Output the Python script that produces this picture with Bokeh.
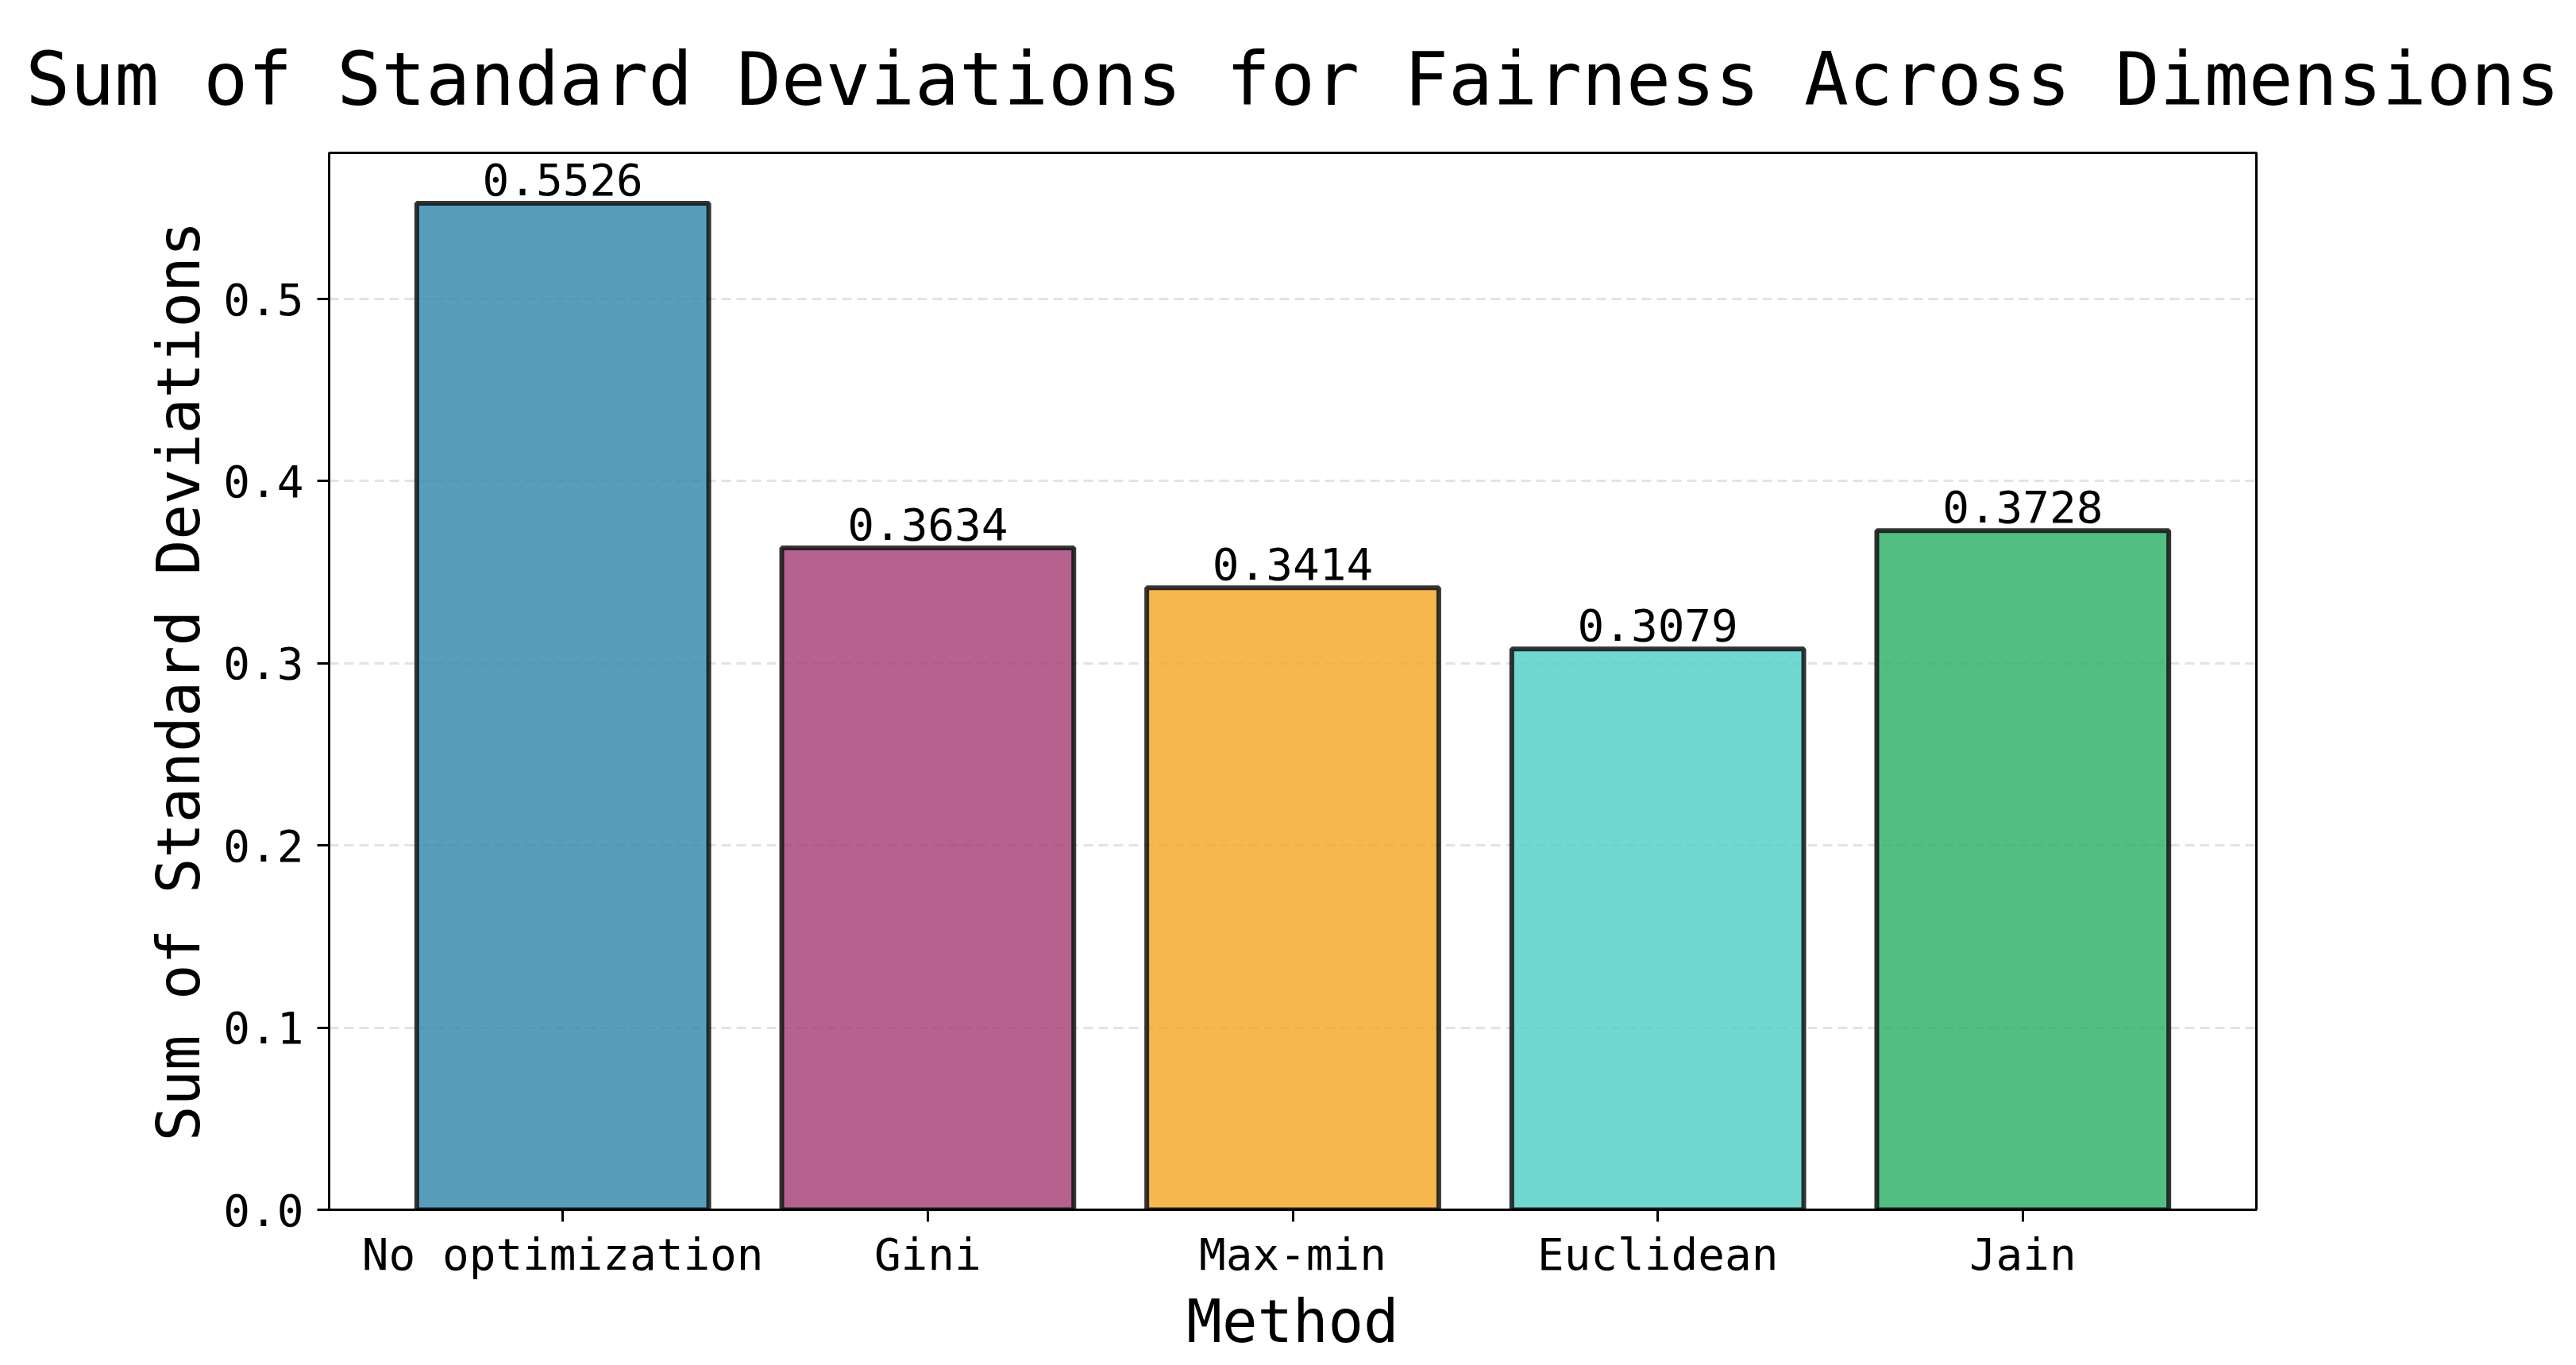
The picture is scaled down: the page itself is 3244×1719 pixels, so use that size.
from bokeh.plotting import figure
from bokeh.models import Range1d, FixedTicker, PrintfTickFormatter, ColumnDataSource
from bokeh.embed import file_html
from bokeh.resources import INLINE
from bokeh.core.properties import value

title_text = "Sum of Standard Deviations for Fairness Across Dimensions"
methods = ["No optimization", "Gini", "Max-min", "Euclidean", "Jain"]
std_sums = [0.5526, 0.3634, 0.3414, 0.3079, 0.3728]
bar_colors = ["#2E86AB", "#A23B72", "#F4A523", "#4ECDC4", "#27AE60"]
y_ticks = [0.0, 0.1, 0.2, 0.3, 0.4, 0.5]

FONT = "DejaVu Sans Mono"
idx = list(range(len(methods)))
src = ColumnDataSource(dict(x=idx, top=std_sums, color=bar_colors,
                            label=[f"{v:.4f}" for v in std_sums]))

y_end = max(std_sums) * 1.05
p = figure(frame_width=2427, frame_height=1331,
           min_border_left=414, min_border_top=192, min_border_right=387, min_border_bottom=180,
           x_range=Range1d(-0.64, len(methods) - 1 + 0.64),
           y_range=Range1d(0, y_end),
           output_backend="svg", toolbar_location=None, title=title_text)

p.title.text_font = FONT
p.title.text_font_size = "93px"
p.title.text_font_style = "normal"
p.title.text_color = "black"
p.title.align = "center"
p.title.vertical_align = "top"
p.title.standoff = 73

p.vbar(x="x", top="top", bottom=0, width=0.8, source=src,
       fill_color="color", fill_alpha=0.8, line_color="#111111", line_alpha=0.85, line_width=6)

p.text(x="x", y="top", text="label", source=src, text_align="center", text_baseline="alphabetic",
       y_offset=-30, text_font=value(FONT), text_font_size="56px", text_color="black")

p.xaxis.ticker = FixedTicker(ticks=idx)
p.xaxis.major_label_overrides = {i: m for i, m in enumerate(methods)}
p.yaxis.ticker = FixedTicker(ticks=y_ticks)
p.yaxis.formatter = PrintfTickFormatter(format="%.1f")

p.xaxis.axis_label = "Method"
p.yaxis.axis_label = "Sum of Standard Deviations"
for ax in (p.xaxis, p.yaxis):
    ax.axis_label_text_font = FONT
    ax.axis_label_text_font_size = "74px"
    ax.axis_label_text_font_style = "normal"
    ax.axis_label_text_color = "black"
    ax.major_label_text_font = FONT
    ax.major_label_text_font_size = "56px"
    ax.major_label_text_color = "black"
    ax.axis_line_color = "black"
    ax.axis_line_width = 3
    ax.major_tick_line_color = "black"
    ax.major_tick_line_width = 3
    ax.major_tick_out = 15
    ax.major_tick_in = 0
    ax.minor_tick_line_color = None
p.xaxis.major_label_standoff = 8
p.yaxis.major_label_standoff = 17
p.xaxis.axis_label_standoff = 6
p.yaxis.axis_label_standoff = 10

p.xgrid.grid_line_color = None
p.ygrid.ticker = FixedTicker(ticks=y_ticks)
p.ygrid.grid_line_color = "#e3e3e3"
p.ygrid.grid_line_width = 3
p.ygrid.grid_line_dash = "12 7"

p.outline_line_color = "black"
p.outline_line_width = 3
p.outline_line_alpha = 1.0

open("out.html", "w").write(file_html(p, INLINE))
